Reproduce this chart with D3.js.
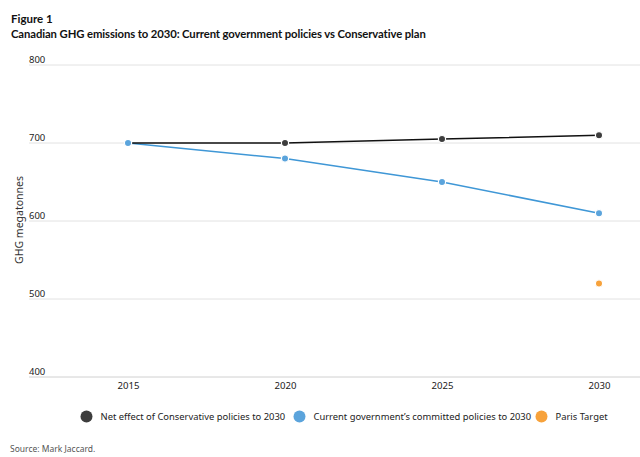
<!DOCTYPE html>
<html>
<head>
<meta charset="utf-8">
<script src="https://cdn.jsdelivr.net/npm/d3@7"></script>
<style>
  body { margin: 0; background: #fff; }
  svg { display: block; }
</style>
</head>
<body>
<svg id="chart" width="640" height="457"></svg>
<script>
const years = [2015, 2020, 2025, 2030];
const conservative = [700, 700, 705, 710];
const currentGov = [700, 680, 650, 610];
const parisYear = [2030];
const parisTarget = [520];
const yTicks = [400, 500, 600, 700, 800];
const legendLabels = ["Net effect of Conservative policies to 2030", "Current government\u2019s committed policies to 2030", "Paris Target"];
const legendColors = ["#3d3d3d", "#5ba4dc", "#f7a23b"];

const svg = d3.select("#chart");
const plot_left = 29, plot_right = 640;
const text_font = "'Noto Sans', sans-serif";

let x_scale = d3.scalePoint()
    .domain(years)
    .range([128, 599]);
let y_scale = d3.scaleLinear()
    .domain([400, 800])
    .range([377, 65]);

// Titles
svg.append("text").attr("x", 11).attr("y", 22.5)
    .style("font", "bold 11.5px Lato, sans-serif").attr("fill", "#111")
    .text("Figure 1");
svg.append("text").attr("x", 11).attr("y", 37.5)
    .style("font", "bold 11.3px Lato, sans-serif").style("letter-spacing", "-0.1px").attr("fill", "#111")
    .text("Canadian GHG emissions to 2030: Current government policies vs Conservative plan");

// Gridlines and y tick labels
let grid = svg.append("g");
grid.selectAll("line").data(yTicks).join("line")
    .attr("x1", plot_left).attr("x2", plot_right)
    .attr("y1", d => y_scale(d)).attr("y2", d => y_scale(d))
    .attr("stroke", d => d === 400 ? "#d0d0d0" : "#e2e2e2").attr("stroke-width", 1);
grid.selectAll("text").data(yTicks).join("text")
    .attr("x", plot_left).attr("y", d => y_scale(d) - 2.5)
    .style("font", "9.5px " + text_font).attr("fill", "#222")
    .text(d => d);

// X axis labels
let x_axis = d3.axisBottom(x_scale).tickSize(0).tickPadding(5);
let x_axis_group = svg.append("g")
    .attr("transform", "translate(0," + y_scale(400) + ")")
    .call(x_axis);
x_axis_group.select(".domain").remove();
x_axis_group.selectAll("text")
    .style("font", "9.6px " + text_font).attr("fill", "#222");

// Y axis title
svg.append("text")
    .attr("transform", "translate(23,220) rotate(-90)")
    .attr("text-anchor", "middle")
    .style("font", "10.5px " + text_font).attr("fill", "#333")
    .text("GHG megatonnes");

// Lines
let line = d3.line().x((d, i) => x_scale(years[i])).y(d => y_scale(d));
svg.append("path").datum(currentGov).attr("d", line)
    .attr("fill", "none").attr("stroke", "#3f97d6").attr("stroke-width", 1.5);
svg.append("path").datum(conservative).attr("d", line)
    .attr("fill", "none").attr("stroke", "#111").attr("stroke-width", 1.5);

// Markers
function markers(values, xs, color) {
    svg.append("g").selectAll("circle").data(values).join("circle")
        .attr("cx", (d, i) => x_scale(xs[i]))
        .attr("cy", d => y_scale(d))
        .attr("r", 3.6)
        .attr("fill", color)
        .attr("stroke", "#fff").attr("stroke-width", 1.2);
}
markers(conservative, years, legendColors[0]);
markers(currentGov, years, legendColors[1]);
markers(parisTarget, parisYear, legendColors[2]);

// Legend
const legendX = [86.5, 299.5, 541.5];
let legend = svg.append("g");
legend.selectAll("circle").data(legendLabels).join("circle")
    .attr("cx", (d, i) => legendX[i]).attr("cy", 416.5).attr("r", 6)
    .attr("fill", (d, i) => legendColors[i]);
legend.selectAll("text").data(legendLabels).join("text")
    .attr("x", (d, i) => legendX[i] + 14).attr("y", 420)
    .style("font", "9.4px " + text_font).attr("fill", "#222")
    .text(d => d);

// Source
svg.append("text").attr("x", 10).attr("y", 452)
    .style("font", "8.5px " + text_font).attr("fill", "#555")
    .text("Source: Mark Jaccard.");
</script>
</body>
</html>
